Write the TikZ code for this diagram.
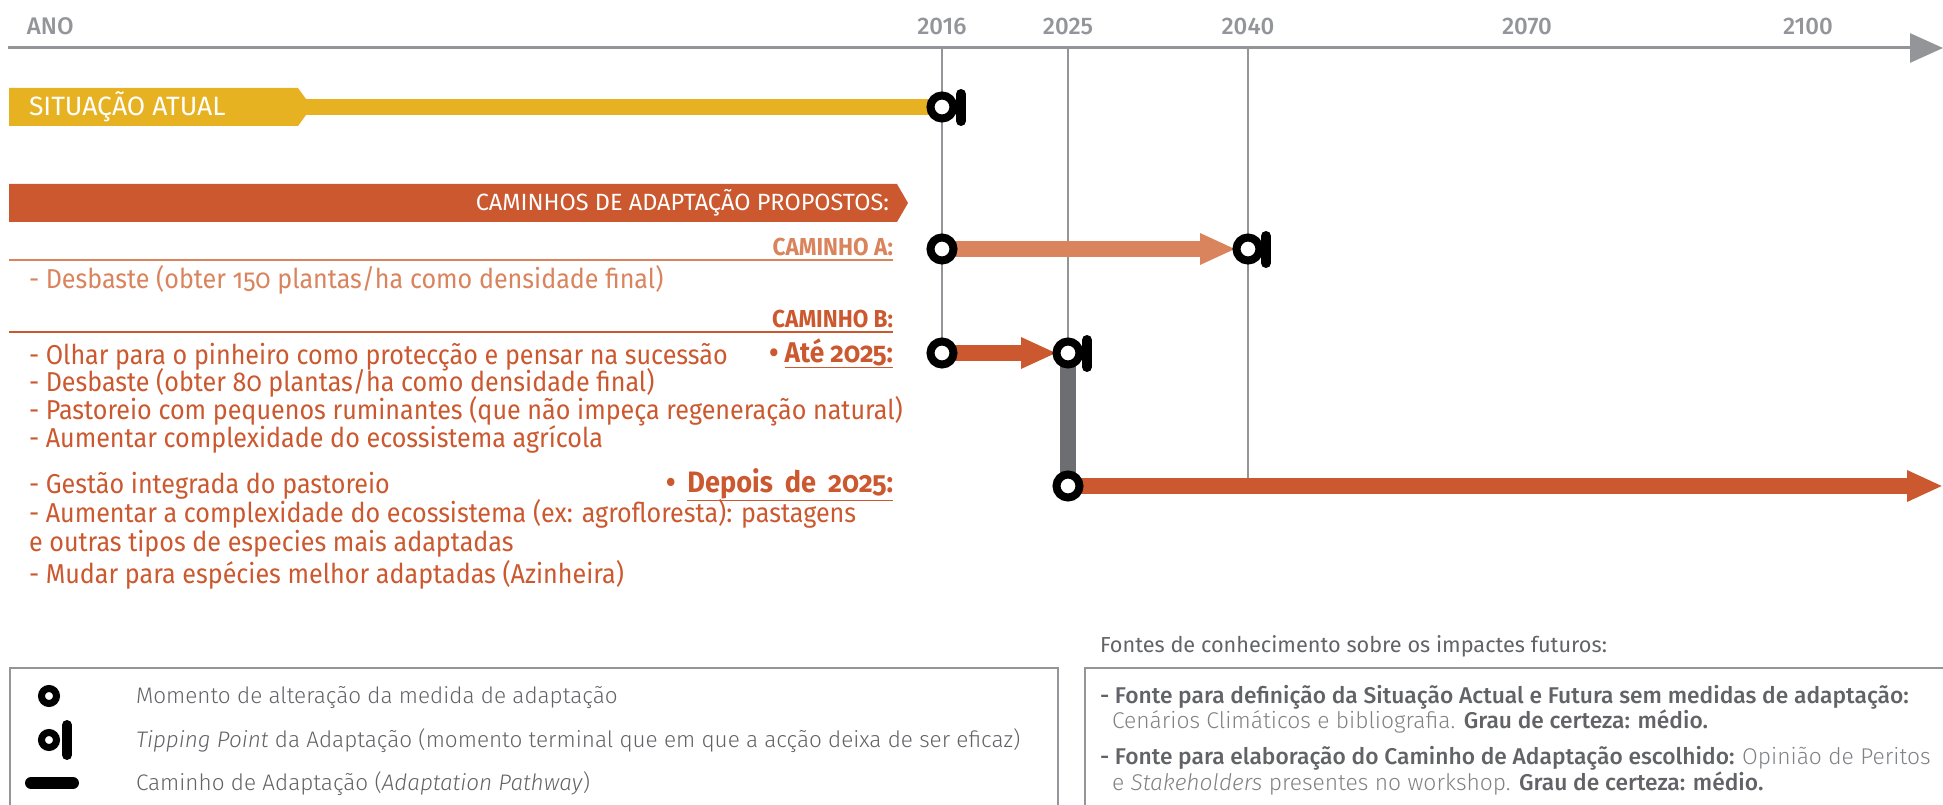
\documentclass[tikz,border=0pt]{standalone}
\usepackage{fontspec}
\setmainfont{Fira Sans}[Numbers=OldStyle]
\newfontfamily\yearf{Fira Sans}[Numbers=Lining]
\newfontfamily\condf{Fira Sans}[Numbers=OldStyle,FakeStretch=0.92]
\newfontfamily\lightf{Fira Sans}[UprightFont={* Light},ItalicFont={* Light Italic},BoldFont={* Medium},BoldItalicFont={* Medium Italic}]
\usetikzlibrary{arrows.meta,calc}
\definecolor{cyel}{HTML}{E6B222}
\definecolor{cdark}{HTML}{CB582E}
\definecolor{clight}{HTML}{D9845C}
\definecolor{caxis}{HTML}{939598}
\definecolor{cbar}{HTML}{6D6E71}
\definecolor{ctext}{HTML}{626366}
\definecolor{clt}{HTML}{808285}
\tikzset{
  txt/.style={inner sep=0pt, outer sep=0pt},
  yearlab/.style={txt, anchor=base, text=caxis, font=\lightf\bfseries\fontsize{24}{28}\selectfont},
  rowB/.style={txt, anchor=base west, text=cdark, font=\condf\fontsize{27.3}{32}\selectfont},
  rowA/.style={rowB, text=clight},
  headB/.style={txt, anchor=base east, text=cdark, font=\condf\bfseries\fontsize{24.5}{28}\selectfont},
  headA/.style={headB, text=clight},
  bullet/.style={headB, font=\condf\bfseries\fontsize{28.5}{32}\selectfont},
  bantext/.style={txt, text=white, font=\yearf\fontsize{23.5}{27}\selectfont},
  ringsym/.style={circle, draw=black, line width=8pt, fill=white, minimum size=23pt, inner sep=0pt},
  tipbar/.style={draw=black, line width=10pt, line cap=round},
  vline/.style={draw=caxis, line width=1.6pt},
  pathbar/.style={line width=16pt},
  headtip/.style={-{Triangle[length=36pt,width=29pt]}},
  legtext/.style={txt, anchor=base west, text=ctext, font=\lightf\fontsize{22.5}{26}\selectfont},
  srctext/.style={txt, anchor=base west, text=ctext, font=\lightf\fontsize{22.8}{26}\selectfont},
  framebox/.style={draw=caxis, line width=1.5pt},
}
\begin{document}
\begin{tikzpicture}[x=1pt,y=-1pt]
\useasboundingbox (0,0) rectangle (1943,805);
% axis
\coordinate (ax0) at (8,48);
\coordinate (ax1) at (1943,48);
\draw[caxis, line width=3pt, -{Triangle[length=33pt,width=29pt]}] (ax0) -- (ax1);
\node[yearlab, anchor=base west] (ano) at (27,35) {ANO};
\node[yearlab] (y16) at (942,35) {2016};
\node[yearlab] (y25) at (1068,35) {2025};
\node[yearlab] (y40) at (1248,35) {2040};
\node[yearlab] (y70) at (1527,35) {2070};
\node[yearlab] (y00) at (1808,35) {2100};
% key points
\coordinate (t16) at (942,107);
\coordinate (a0) at (942,249);
\coordinate (a1) at (1248,249);
\coordinate (aTip) at (1236,249);
\coordinate (b0) at (942,353);
\coordinate (b1) at (1068,353);
\coordinate (bTip) at (1057,353);
\coordinate (c0) at (1068,486);
\coordinate (cEnd) at (1943,486);
\coordinate (v16) at (942,48);
\coordinate (v25) at (1068,48);
\coordinate (v40) at (1248,48);
\coordinate (v40e) at (1248,486);
% vertical year lines
\draw[vline] (v16) -- (b0);
\draw[vline] (v25) -- (b1);
\draw[vline] (v40) -- (v40e);
% banners
\fill[cyel] (9,88) -- (298,88) -- (306,99) -- (306,115) -- (298,126) -- (9,126) -- cycle;
\coordinate (sitEnd) at (300,107);
\node[bantext, anchor=base west, font=\yearf\fontsize{26.5}{30}\selectfont] (sit) at (29,116) {SITUAÇÃO ATUAL};
\fill[cdark] (9,184) -- (897,184) -- (908,203) -- (897,222) -- (9,222) -- cycle;
\node[bantext, anchor=base east] (cam) at (889,211) {CAMINHOS DE ADAPTAÇÃO PROPOSTOS:};
% caminho A
\node[headA] (camA) at (893,255) {CAMINHO A:};
\draw[clight, line width=2pt] (9,260) -- (893,260);
\node[rowA] (rA1) at (29,288) {- Desbaste (obter 150 plantas/ha como densidade final)};
% caminho B
\node[headB] (camB) at (893,327) {CAMINHO B:};
\draw[cdark, line width=2pt] (9,332) -- (893,332);
\node[rowB] (rB1) at (29,364) {- Olhar para o pinheiro como protecção e pensar na sucessão};
\node[rowB] (rB2) at (29,391) {- Desbaste (obter 80 plantas/ha como densidade final)};
\node[rowB] (rB3) at (29,419) {- Pastoreio com pequenos ruminantes (que não impeça regeneração natural)};
\node[rowB] (rB4) at (29,447) {- Aumentar complexidade do ecossistema agrícola};
\node[bullet] (ate) at (893,362) {• \underline{Até 2025:}};
\node[rowB] (rC1) at (29,493) {- Gestão integrada do pastoreio};
\node[rowB] (rC2) at (29,522) {- Aumentar a complexidade do ecossistema (ex: agrofloresta): pastagens};
\node[rowB] (rC3) at (29,551) {e outras tipos de especies mais adaptadas};
\node[rowB] (rC4) at (29,583) {- Mudar para espécies melhor adaptadas (Azinheira)};
\node[bullet, font=\condf\bfseries\fontsize{29.5}{34}\selectfont] (dep) at (893,492) {•\hspace{12pt}\underline{Depois\hspace{12pt}de\hspace{12pt}2025:}};
% bars
\draw[cyel, pathbar] (sitEnd) -- (t16);
\draw[clight, pathbar, headtip] (a0) -- (aTip);
\draw[cdark, pathbar, headtip] (b0) -- (bTip);
\draw[cbar, pathbar] (b1) -- (c0);
\draw[cdark, pathbar, headtip] (c0) -- (cEnd);
% symbols
\draw[tipbar] ($(t16)+(19,-13)$) -- ($(t16)+(19,14)$);
\node[ringsym] (st16) at (t16) {};
\node[ringsym] (sa0) at (a0) {};
\draw[tipbar] ($(a1)+(18,-13)$) -- ($(a1)+(18,14)$);
\node[ringsym] (sa1) at (a1) {};
\node[ringsym] (sb0) at (b0) {};
\draw[tipbar] ($(b1)+(19,-13)$) -- ($(b1)+(19,14)$);
\node[ringsym] (sb1) at (b1) {};
\node[ringsym] (sc0) at (c0) {};
% legend
\draw[framebox] (10,810) -- (10,668) -- (1058,668) -- (1058,810);
\node[ringsym, line width=7pt, minimum size=15pt] (lg1) at (49,696) {};
\draw[tipbar, line width=10pt] (67,725) -- (67,755);
\node[ringsym, line width=7pt, minimum size=15pt] (lg2) at (49,740) {};
\coordinate (lp0) at (31,783);
\coordinate (lp1) at (73,783);
\draw[black, line width=12pt, line cap=round] (lp0) -- (lp1);
\node[legtext] (lt1) at (136,703) {Momento de alteração da medida de adaptação};
\node[legtext] (lt2) at (136,747) {\textit{Tipping Point} da Adaptação (momento terminal que em que a acção deixa de ser eficaz)};
\node[legtext] (lt3) at (136,790) {Caminho de Adaptação (\textit{Adaptation Pathway})};
% sources
\node[srctext, font=\fontsize{21.7}{26}\selectfont] (fon) at (1100,652) {Fontes de conhecimento sobre os impactes futuros:};
\draw[framebox] (1085,810) -- (1085,668) -- (1950,668);
\node[srctext] (s1) at (1100,703) {\bfseries - Fonte para definição da Situação Actual e Futura sem medidas de adaptação:};
\node[srctext, text=clt] (s2) at (1112,728) {Cenários Climáticos e bibliografia. {\bfseries\color{ctext}Grau de certeza: médio.}};
\node[srctext] (s3) at (1100,764) {\bfseries - Fonte para elaboração do Caminho de Adaptação escolhido: {\mdseries\color{clt}Opinião de Peritos}};
\node[srctext, text=clt] (s4) at (1112,790) {e \textit{Stakeholders} presentes no workshop. {\bfseries\color{ctext}Grau de certeza: médio.}};
\end{tikzpicture}
\end{document}
